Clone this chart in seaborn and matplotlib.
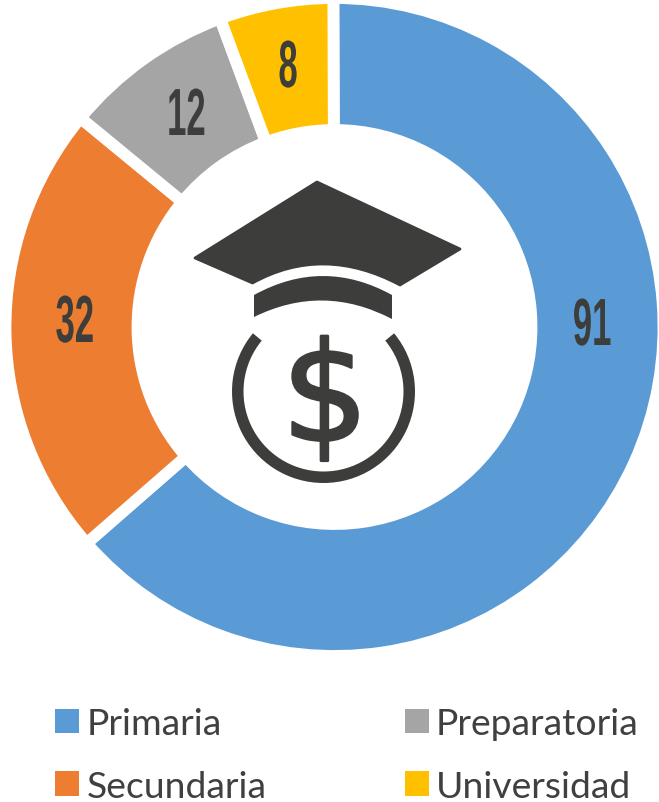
import matplotlib
matplotlib.use("Agg")
import matplotlib.pyplot as plt
import seaborn as sns
from matplotlib.patches import PathPatch, Rectangle, Wedge
from matplotlib.path import Path
from matplotlib.patheffects import AbstractPathEffect, Normal, Stroke
from matplotlib.transforms import Affine2D

# Data
categories = ["Primaria", "Secundaria", "Preparatoria", "Universidad"]
values = [91, 32, 12, 8]
colors = ["#5B9BD5", "#ED7D31", "#A5A5A5", "#FFC000"]

# Where the value labels sit, in image pixels
label_xy = [(592, 329), (75, 326), (186, 119), (288, 71)]

WIDTH, HEIGHT = 659, 803
DARK = "#3D3D3B"


class Squeeze(AbstractPathEffect):
    """Narrow a text around its own centre, no font here is condensed enough."""

    def __init__(self, sx):
        super().__init__()
        self.sx = sx

    def draw_path(self, renderer, gc, tpath, affine, rgbFace=None):
        box = tpath.get_extents(affine)
        cx = (box.x0 + box.x1) / 2
        squeezed = affine + Affine2D().translate(-cx, 0).scale(self.sx, 1).translate(cx, 0)
        renderer.draw_path(gc, tpath, squeezed, rgbFace)


def py(y):
    """Image pixel row to axes y."""
    return HEIGHT - y


def icon_patch(points, codes, **kwargs):
    verts = [(x, py(y)) for x, y in points]
    return PathPatch(Path(verts, codes), **kwargs)


def draw_icon(ax):
    M, L, C, Z = Path.MOVETO, Path.LINETO, Path.CURVE3, Path.CLOSEPOLY
    # Cap, its lower edge is a curve
    cap = [(317, 183), (460, 250), (400, 286), (323, 245), (252.5, 284), (195, 259), (317, 183)]
    ax.add_patch(icon_patch(cap, [M, L, L, C, C, L, Z], fc=DARK, ec=DARK, lw=2, joinstyle="round"))
    # Band under the cap
    band = [(254, 296), (323, 258), (392, 296), (392, 320), (323, 284), (254, 318), (254, 296)]
    ax.add_patch(icon_patch(band, [M, C, C, L, C, C, Z], fc=DARK, ec="none"))
    # Coin, open at the top
    ax.add_patch(Wedge((323.5, py(392.5)), 91.5, 140.5, 399.5, width=11.5, fc=DARK, ec="none"))
    ax.text(325, py(404), "$", ha="center", va="center", color=DARK, fontsize=99,
            family=["DejaVu Sans"], path_effects=[Stroke(linewidth=2, foreground=DARK), Normal()])


def main():
    sns.set_theme(style="white")
    plt.rcParams["font.family"] = ["Lato", "DejaVu Sans"]

    fig = plt.figure(figsize=(WIDTH / 100, HEIGHT / 100), dpi=100)
    ax = fig.add_axes([0, 0, 1, 1])

    # Donut, the white edge makes the gaps between the wedges
    ax.pie(values, colors=sns.color_palette(colors), startangle=90.2, counterclock=False,
           center=(334.5, py(328)), radius=329, frame=True,
           wedgeprops=dict(width=132, edgecolor="white", linewidth=8.5))

    ax.set_xlim(0, WIDTH)
    ax.set_ylim(0, HEIGHT)
    ax.set_aspect("equal")
    ax.axis("off")

    for value, (x, y) in zip(values, label_xy):
        ax.text(x, py(y), str(value), ha="center", va="center", color=DARK, fontsize=48,
                fontweight="bold", family=["Liberation Sans Narrow", "Liberation Sans", "DejaVu Sans"],
                path_effects=[Squeeze(0.52)])

    draw_icon(ax)

    handles = [Rectangle((0, 0), 1, 1, fc=c, ec="none") for c in colors]
    ax.legend(handles, categories, ncol=2, loc="upper left", bbox_to_anchor=(55 / WIDTH, py(708) / HEIGHT),
              frameon=False, labelcolor="#404040", handlelength=0.645, handleheight=0.645,
              handletextpad=0.2, columnspacing=3.71, labelspacing=0.8, borderpad=0, borderaxespad=0,
              prop=dict(family="Lato", weight="normal", size=26.8))

    fig.savefig("out.png", dpi=100, facecolor="white")
    plt.close(fig)


if __name__ == "__main__":
    main()
